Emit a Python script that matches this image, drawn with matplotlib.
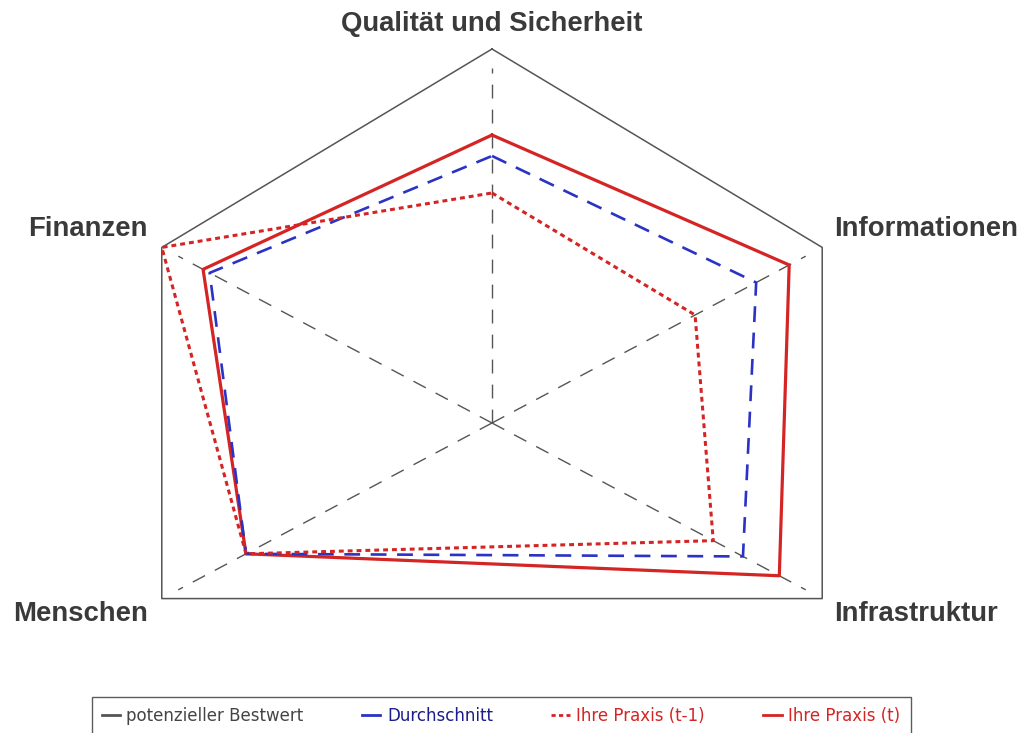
import numpy as np
import matplotlib
matplotlib.use("Agg")
import matplotlib.pyplot as plt
from matplotlib.lines import Line2D

# Kategorien und Werte (Anteil vom potenziellen Bestwert)
categories = ["Qualität und Sicherheit", "Informationen", "Infrastruktur", "Menschen", "Finanzen"]
angles_deg = [90, 28, -28, 208, 152]

best_values = [1.0, 1.0, 1.0, 1.0, 1.0]
avg_values = [0.714, 0.80, 0.76, 0.745, 0.855]
prev_values = [0.615, 0.615, 0.67, 0.745, 1.0]
curr_values = [0.77, 0.90, 0.87, 0.745, 0.875]

legend_labels = ["potenzieller Bestwert", "Durchschnitt", "Ihre Praxis (t-1)", "Ihre Praxis (t)"]

GRAY = "#555555"
BLUE = "#2a33c4"
RED = "#d42424"

angles = np.deg2rad(angles_deg)


def polygon(values):
    v = np.asarray(values + values[:1])
    a = np.concatenate([angles, angles[:1]])
    return v * np.cos(a), v * np.sin(a)


fig = plt.figure(figsize=(10.19, 7.33), dpi=100)
ax = fig.add_axes([0, 0, 1, 1])
ax.set_xlim(-492 / 374, (1019 - 492) / 374)
ax.set_ylim(-310 / 374, 423 / 374)
ax.axis("off")

# Speichen
for a in angles:
    ax.plot([0, 0.95 * np.cos(a)], [0, 0.95 * np.sin(a)], color=GRAY,
            lw=1.0, linestyle=(0, (10, 8)), zorder=1)

x, y = polygon(best_values)
ax.plot(x, y, color=GRAY, lw=1.1, zorder=2)

x, y = polygon(curr_values)
ax.plot(x, y, color=RED, lw=2.3, zorder=3)

x, y = polygon(avg_values)
ax.plot(x, y, color=BLUE, lw=1.9, linestyle=(0, (6, 4)), zorder=4)

x, y = polygon(prev_values)
ax.plot(x, y, color=RED, lw=2.2, linestyle=(0, (1.6, 1.3)), zorder=5)

# Achsenbeschriftungen
label_style = dict(fontsize=19.8, fontweight="bold", color="#3a3a3a",
                   family="Liberation Sans", va="center")
ax.text(0, 1.066, categories[0], ha="center", **label_style)
ax.text(0.915, 0.52, categories[1], ha="left", **label_style)
ax.text(0.915, -0.51, categories[2], ha="left", **label_style)
ax.text(-0.92, -0.51, categories[3], ha="right", **label_style)
ax.text(-0.92, 0.52, categories[4], ha="right", **label_style)

handles = [
    Line2D([], [], color=GRAY, lw=2),
    Line2D([], [], color=BLUE, lw=2),
    Line2D([], [], color=RED, lw=2, linestyle=(0, (1.5, 1.2))),
    Line2D([], [], color=RED, lw=2),
]
leg = fig.legend(handles, legend_labels, ncol=4, loc="upper center",
                 bbox_to_anchor=(501 / 1019, 1 - 697 / 733), borderaxespad=0,
                 frameon=True, fancybox=False, edgecolor="#333333",
                 handlelength=1.1, handletextpad=0.4, columnspacing=3.5,
                 borderpad=0.6, prop={"family": "DejaVu Sans", "size": 12})
leg.get_frame().set_linewidth(1.0)
text_colors = ["#444444", "#1c1c8a", RED, RED]
for t, c in zip(leg.get_texts(), text_colors):
    t.set_color(c)

fig.savefig("out.png", dpi=100)
